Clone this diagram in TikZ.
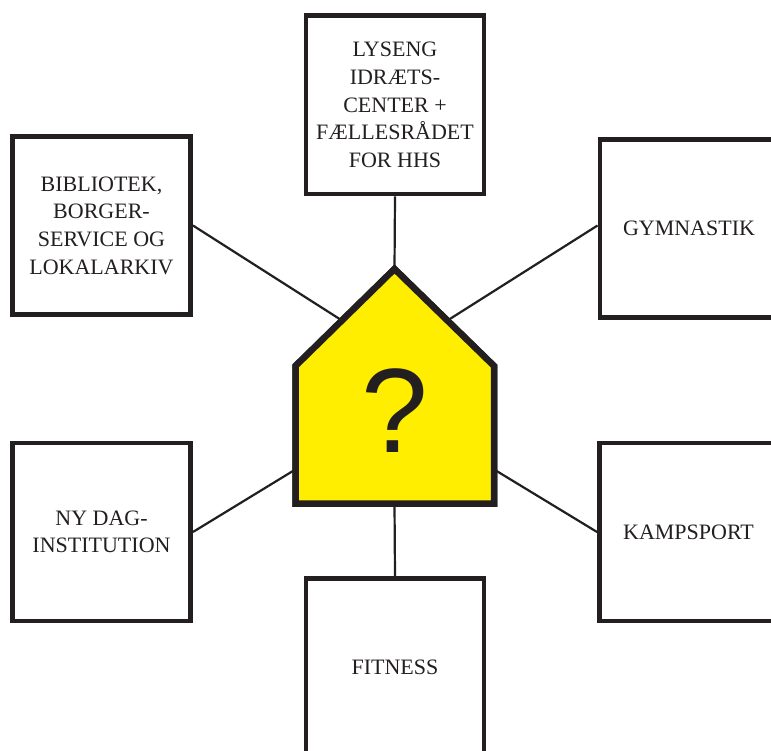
\documentclass[tikz,border=0pt]{standalone}
\usepackage{fontspec}
\setmainfont{Liberation Serif}
\newfontfamily\qfont{Liberation Sans}
\definecolor{ink}{HTML}{231F20}
\definecolor{hyellow}{HTML}{FFEE00}
\begin{document}
\begin{tikzpicture}[x=1pt,y=-1pt,
  box/.style={draw=ink, line width=4.5pt, minimum width=178.4pt, minimum height=178.4pt,
    inner sep=0pt, align=center, text=ink, font=\fontsize{22}{27.6}\selectfont},
  conn/.style={draw=ink, line width=2.2pt},
  housestyle/.style={draw=ink, fill=hyellow, line width=6.5pt, line join=miter},
  shadowstyle/.style={draw=ink, fill=ink, line width=6.5pt, line join=miter}]
\useasboundingbox (0,0) rectangle (771,751);
\clip (0,0) rectangle (771,751);
\fill[white] (0,0) rectangle (771,751);

% boxes
\node[box] (top) at (395,104.9) {LYSENG\\IDRÆTS-\\CENTER +\\FÆLLESRÅDET\\FOR HHS};
\node[box] (lt) at (101.5,225.5) {BIBLIOTEK,\\BORGER-\\SERVICE OG\\LOKALARKIV};
\node[box] (rt) at (689,228.5) {GYMNASTIK};
\node[box] (lb) at (101.5,532) {NY DAG-\\INSTITUTION};
\node[box] (rb) at (688.5,532) {KAMPSPORT};
\node[box] (fit) at (395,667.5) {FITNESS};

% house corners and connector targets
\coordinate (hpeak) at (394.5,269);
\coordinate (hsl) at (295.5,366);
\coordinate (hbl) at (295.5,503.5);
\coordinate (hbr) at (494,503.5);
\coordinate (hsr) at (494,366);
\coordinate (hbot) at (394.5,503.5);
\coordinate (hc1) at (394.5,354);
\coordinate (hc2) at (394.5,409);

% connectors (behind house)
\draw[conn] (top.south) -- (hpeak);
\draw[conn] (hbot) -- (fit.north);
\draw[conn] (lt.east) -- (hc1);
\draw[conn] (rt.west |- lt.east) -- (hc1);
\draw[conn] (lb.east) -- (hc2);
\draw[conn] (rb.west) -- (hc2);

% house
\draw[shadowstyle, shift={(2.5,3)}] (hpeak) -- (hsl) -- (hbl) -- (hbr) -- (hsr) -- cycle;
\draw[housestyle] (hpeak) -- (hsl) -- (hbl) -- (hbr) -- (hsr) -- cycle;
\node[text=ink, font=\qfont\fontsize{120}{120}\selectfont, inner sep=0pt] (q) at (395,411) {?};
\end{tikzpicture}
\end{document}
